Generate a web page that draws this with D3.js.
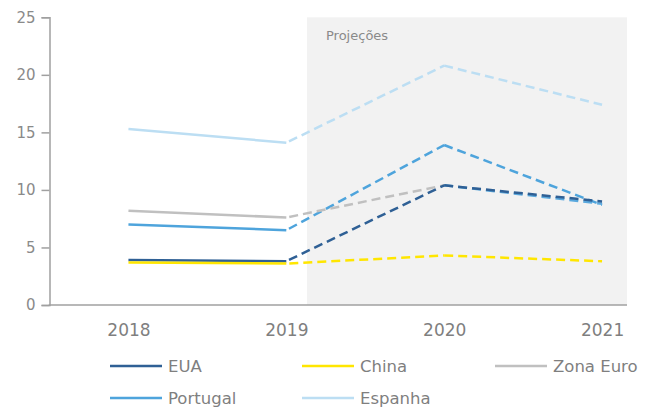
<!DOCTYPE html>
<html>
<head>
<meta charset="utf-8">
<script src="https://cdn.jsdelivr.net/npm/d3@7"></script>
<style>
  html, body { margin: 0; padding: 0; background: #fff; }
  svg { display: block; font-family: "DejaVu Sans", sans-serif; }
</style>
</head>
<body>
<svg id="chart" width="653" height="408"></svg>
<script>
// ---- data ----
const years = ["2018", "2019", "2020", "2021"];
const seriesNames = ["EUA", "China", "Zona Euro", "Portugal", "Espanha"];
const euaValues      = [3.9, 3.8, 10.4, 9.0];
const chinaValues    = [3.7, 3.6, 4.3, 3.8];
const zonaEuroValues = [8.2, 7.6, 10.4, 8.8];
const portugalValues = [7.0, 6.5, 13.9, 8.7];
const espanhaValues  = [15.3, 14.1, 20.8, 17.4];
const yTicks = [0, 5, 10, 15, 20, 25];
const projectionLabel = "Projeções";

// ---- styles ----
const colors = {
  "EUA": "#2f6095",
  "China": "#ffe600",
  "Zona Euro": "#c0c0c0",
  "Portugal": "#4ea4dc",
  "Espanha": "#bcdef3"
};
// projected segment colours (Zona Euro's last segment appears blue in the source)
const projSegColor = (name, i) => (name === "Zona Euro" && i === 2) ? "#5aa9de" : colors[name];

const valuesByName = {
  "EUA": euaValues, "China": chinaValues, "Zona Euro": zonaEuroValues,
  "Portugal": portugalValues, "Espanha": espanhaValues
};
const drawOrder = ["Espanha", "Portugal", "Zona Euro", "EUA", "China"];

const svg = d3.select("#chart");
const axisLeftX = 49.5, axisRightX = 627, yTop = 17.3, yBottom = 305;

const x = d3.scalePoint().domain(years).range([axisLeftX, 681]).padding(0.5);
const y = d3.scaleLinear().domain([0, 25]).range([yBottom, yTop]);

// projection shading
svg.append("rect")
  .attr("x", 307).attr("y", y(25))
  .attr("width", axisRightX - 307).attr("height", y(0) - y(25))
  .attr("fill", "#f2f2f2");
svg.append("text")
  .attr("x", 326).attr("y", 40)
  .attr("font-size", 13).attr("fill", "#8a8a8a")
  .text(projectionLabel);

// y axis
const yAxis = svg.append("g")
  .attr("transform", `translate(${axisLeftX},0)`)
  .call(d3.axisLeft(y).tickValues(yTicks).tickSize(8).tickPadding(6).tickFormat(d3.format("d")));
yAxis.selectAll("path, line").attr("stroke", "#a0a0a0").attr("stroke-width", 1.5);
yAxis.selectAll("text").attr("font-size", 15).attr("fill", "#8a8a8a").attr("font-family", "DejaVu Sans");

// x axis
const xAxis = svg.append("g")
  .attr("transform", `translate(0,${yBottom})`)
  .call(d3.axisBottom(x).tickSize(0).tickPadding(19));
xAxis.select(".domain").remove();
xAxis.selectAll("text").attr("font-size", 17).attr("fill", "#7f7f7f").attr("font-family", "DejaVu Sans");
svg.append("line")
  .attr("x1", axisLeftX - 0.75).attr("x2", axisRightX)
  .attr("y1", yBottom).attr("y2", yBottom)
  .attr("stroke", "#a0a0a0").attr("stroke-width", 1.5);

// lines
const lineGen = d3.line().x(d => x(d.year)).y(d => y(d.value));
const linesG = svg.append("g");
drawOrder.forEach(name => {
  const pts = years.map((yr, i) => ({ year: yr, value: valuesByName[name][i] }));
  // actual (solid) 2018-2019
  linesG.append("path")
    .datum(pts.slice(0, 2))
    .attr("d", lineGen)
    .attr("fill", "none")
    .attr("stroke", colors[name])
    .attr("stroke-width", 2.5)
    .attr("stroke-linejoin", "round");
  // projections (dashed)
  for (let i = 1; i < pts.length - 1; i++) {
    linesG.append("path")
      .datum(pts.slice(i, i + 2))
      .attr("d", lineGen)
      .attr("fill", "none")
      .attr("stroke", projSegColor(name, i))
      .attr("stroke-width", 2.5)
      .attr("stroke-dasharray", "9,5")
      .attr("stroke-dashoffset", i === 1 ? -3 : 0);
  }
});

// legend
const legendPos = [
  { name: "EUA", x: 110, y: 366 },
  { name: "China", x: 302, y: 366 },
  { name: "Zona Euro", x: 495, y: 366 },
  { name: "Portugal", x: 110, y: 398 },
  { name: "Espanha", x: 302, y: 398 }
];
const legend = svg.append("g");
legendPos.forEach(p => {
  legend.append("line")
    .attr("x1", p.x).attr("x2", p.x + 52)
    .attr("y1", p.y).attr("y2", p.y)
    .attr("stroke", colors[p.name]).attr("stroke-width", 2.5);
  legend.append("text")
    .attr("x", p.x + 58).attr("y", p.y)
    .attr("dy", "0.36em")
    .attr("font-size", 16.5).attr("fill", "#7f7f7f")
    .text(p.name);
});
</script>
</body>
</html>
